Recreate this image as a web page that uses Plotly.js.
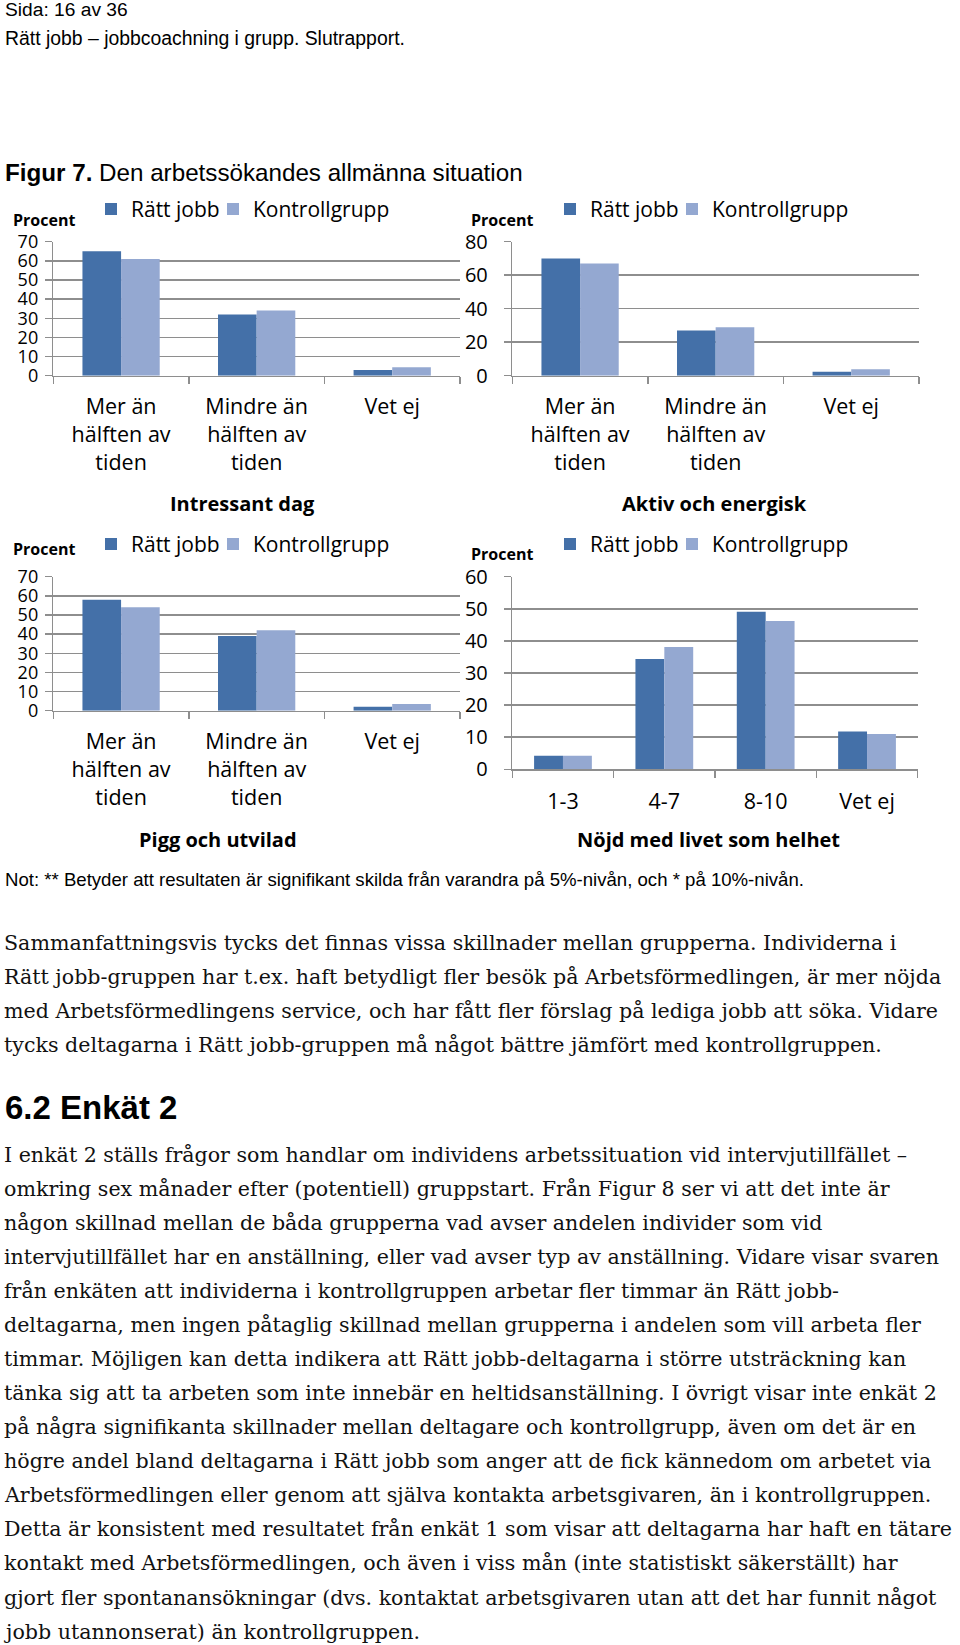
<!DOCTYPE html>
<html>
<head>
<meta charset="utf-8">
<script src="https://cdn.plot.ly/plotly-3.0.1.min.js"></script>
<style>html,body{margin:0;padding:0;background:#fff;}#chart{width:960px;height:1645px;}</style>
</head>
<body>
<div id="chart"></div>
<script>
// ---------- data ----------
const seriesNames = ["Rätt jobb", "Kontrollgrupp"];
const catsTid = ["Mer än<br>hälften av<br>tiden", "Mindre än<br>hälften av<br>tiden", "Vet ej"];
const catsNojd = ["1-3", "4-7", "8-10", "Vet ej"];

const intressantRatt = [65, 32, 3];
const intressantKontroll = [61, 34, 4.4];
const aktivRatt = [70, 27, 2.4];
const aktivKontroll = [67, 29, 3.8];
const piggRatt = [58, 39, 2];
const piggKontroll = [54, 42, 3.5];
const nojdRatt = [4.2, 34.4, 49.1, 11.8];
const nojdKontroll = [4.2, 38.1, 46.2, 11];

const chartTitles = ["Intressant dag", "Aktiv och energisk", "Pigg och utvilad", "Nöjd med livet som helhet"];
const yAxisLabel = "Procent";

const headerLines = ["Sida: 16 av 36", "Rätt jobb – jobbcoachning i grupp. Slutrapport."];
const figureLabel = "Figur 7.";
const figureCaption = " Den arbetssökandes allmänna situation";
const noteText = "Not: ** Betyder att resultaten är signifikant skilda från varandra på 5%-nivån, och * på 10%-nivån.";
const para1 = [
  "Sammanfattningsvis tycks det finnas vissa skillnader mellan grupperna. Individerna i",
  "Rätt jobb-gruppen har t.ex. haft betydligt fler besök på Arbetsförmedlingen, är mer nöjda",
  "med Arbetsförmedlingens service, och har fått fler förslag på lediga jobb att söka. Vidare",
  "tycks deltagarna i Rätt jobb-gruppen må något bättre jämfört med kontrollgruppen."
];
const heading = "6.2 Enkät 2";
const para2 = [
  "I enkät 2 ställs frågor som handlar om individens arbetssituation vid intervjutillfället –",
  "omkring sex månader efter (potentiell) gruppstart. Från Figur 8 ser vi att det inte är",
  "någon skillnad mellan de båda grupperna vad avser andelen individer som vid",
  "intervjutillfället har en anställning, eller vad avser typ av anställning. Vidare visar svaren",
  "från enkäten att individerna i kontrollgruppen arbetar fler timmar än Rätt jobb-",
  "deltagarna, men ingen påtaglig skillnad mellan grupperna i andelen som vill arbeta fler",
  "timmar. Möjligen kan detta indikera att Rätt jobb-deltagarna i större utsträckning kan",
  "tänka sig att ta arbeten som inte innebär en heltidsanställning. I övrigt visar inte enkät 2",
  "på några signifikanta skillnader mellan deltagare och kontrollgrupp, även om det är en",
  "högre andel bland deltagarna i Rätt jobb som anger att de fick kännedom om arbetet via",
  "Arbetsförmedlingen eller genom att själva kontakta arbetsgivaren, än i kontrollgruppen.",
  "Detta är konsistent med resultatet från enkät 1 som visar att deltagarna har haft en tätare",
  "kontakt med Arbetsförmedlingen, och även i viss mån (inte statistiskt säkerställt) har",
  "gjort fler spontanansökningar (dvs. kontaktat arbetsgivaren utan att det har funnit något",
  "jobb utannonserat) än kontrollgruppen."
];

// ---------- styling / layout ----------
const W = 960, H = 1645;
const px = x => x / W;
const py = y => 1 - y / H;
const darkBlue = "#4470a8";
const lightBlue = "#94a8d1";
const gridGray = "#8e8e8e";
const chartFont = "Open Sans, sans-serif";
const sansFont = "Liberation Sans, Arial, sans-serif";
const serifFont = "DejaVu Serif, serif";
const legendEntryWidths = [77, 140];

const charts = [
  {cats: catsTid, a: intressantRatt, b: intressantKontroll, xd: [53.3, 460], y0: 375.7, yTop: 241.7, max: 70, dt: 10, ysz: 18, ystand: 3, xstand: 11},
  {cats: catsTid, a: aktivRatt, b: aktivKontroll, xd: [512.3, 919], y0: 375.7, yTop: 241.7, max: 80, dt: 20, ysz: 20, ystand: 12, xstand: 11},
  {cats: catsTid, a: piggRatt, b: piggKontroll, xd: [53.3, 460], y0: 710.7, yTop: 576.7, max: 70, dt: 10, ysz: 18, ystand: 3, xstand: 11},
  {cats: catsNojd, a: nojdRatt, b: nojdKontroll, xd: [512.3, 917.7], y0: 769.3, yTop: 576.7, max: 60, dt: 10, ysz: 20, ystand: 12, xstand: 12}
];

const traces = [];
const layout = {
  width: W, height: H,
  margin: {l: 0, r: 0, t: 0, b: 0},
  paper_bgcolor: "#fff", plot_bgcolor: "#fff",
  barmode: "group", bargap: 0.43, bargroupgap: 0,
  font: {family: chartFont, color: "#000", size: 21},
  annotations: [],
  showlegend: true
};

const legendPos = [[91, 209.3], [550, 209.3], [91, 544.3], [550, 544.3]];

charts.forEach((c, i) => {
  const n = i === 0 ? "" : String(i + 1);
  const lg = i === 0 ? "legend" : "legend" + (i + 1);
  [[c.a, darkBlue, 0], [c.b, lightBlue, 1]].forEach(([vals, col, k]) => {
    traces.push({
      type: "bar", x: c.cats, y: vals, name: seriesNames[k],
      xaxis: "x" + n, yaxis: "y" + n, legend: lg, legendwidth: legendEntryWidths[k],
      marker: {color: col, line: {width: 0}},
      hoverinfo: "skip"
    });
  });
  const domY = [py(c.y0), py(c.yTop)];
  layout["xaxis" + n] = {
    domain: [px(c.xd[0]), px(c.xd[1])], anchor: "y" + n,
    type: "category", showline: true, linecolor: gridGray, linewidth: 1.5,
    ticks: "outside", tickson: "boundaries", ticklen: 7, tickcolor: gridGray, tickwidth: 1.5,
    showgrid: false, zeroline: false, fixedrange: true,
    tickfont: {family: chartFont, size: 21.5, color: "#000"}, ticklabelstandoff: c.xstand
  };
  layout["yaxis" + n] = {
    domain: domY, anchor: "x" + n, range: [0, c.max], dtick: c.dt, tick0: 0,
    showline: true, linecolor: gridGray, linewidth: 1.5,
    showgrid: true, gridcolor: gridGray, gridwidth: 1.5,
    ticks: "outside", ticklen: 7, tickcolor: gridGray, tickwidth: 1.5,
    zeroline: false, fixedrange: true,
    tickfont: {family: chartFont, size: c.ysz, color: "#000"}, ticklabelstandoff: c.ystand
  };
  layout[lg] = {
    orientation: "h", x: px(legendPos[i][0]), y: py(legendPos[i][1]),
    xanchor: "left", yanchor: "middle", bgcolor: "rgba(0,0,0,0)",
    font: {family: chartFont, size: 21, color: "#000"},
    itemclick: false, itemdoubleclick: false, tracegroupgap: 0
  };
});

function ann(text, x, y, font, extra) {
  layout.annotations.push(Object.assign({
    text: text, x: px(x), y: py(y), xref: "paper", yref: "paper",
    xanchor: "left", yanchor: "middle", showarrow: false, font: font
  }, extra || {}));
}

// "Procent" labels
const procPos = [[11, 220], [469, 220], [11, 549.3], [469, 554.3]];
procPos.forEach(p => ann("<b>" + yAxisLabel + "</b>", p[0], p[1], {family: chartFont, size: 16, color: "#000"}));

// chart titles
const titlePos = [[242.5, 503.3], [714, 503.3], [218.3, 839.3], [708.7, 839.3]];
chartTitles.forEach((t, i) => ann("<b>" + t + "</b>", titlePos[i][0], titlePos[i][1],
  {family: chartFont, size: 20, color: "#000"}, {xanchor: "center"}));

// page text
ann(headerLines[0], 3, 9, {family: sansFont, size: 19.2, color: "#000"});
ann(headerLines[1], 3, 38.3, {family: sansFont, size: 19.4, color: "#000"});
ann("<b>" + figureLabel + "</b>" + figureCaption, 3, 172.5, {family: sansFont, size: 24.2, color: "#000"});
ann(noteText, 3, 879.5, {family: sansFont, size: 18.6, color: "#000"});
para1.forEach((l, i) => ann(l, 2, 943 + i * 34, {family: serifFont, size: 20.6, color: "#111"}));
ann("<b>" + heading + "</b>", 3, 1107.5, {family: sansFont, size: 33, color: "#000"});
para2.forEach((l, i) => ann(l, 2, 1155 + i * 34.04, {family: serifFont, size: 20.6, color: "#111"}));

Plotly.newPlot("chart", traces, layout, {staticPlot: true, displayModeBar: false});
</script>
</body>
</html>
